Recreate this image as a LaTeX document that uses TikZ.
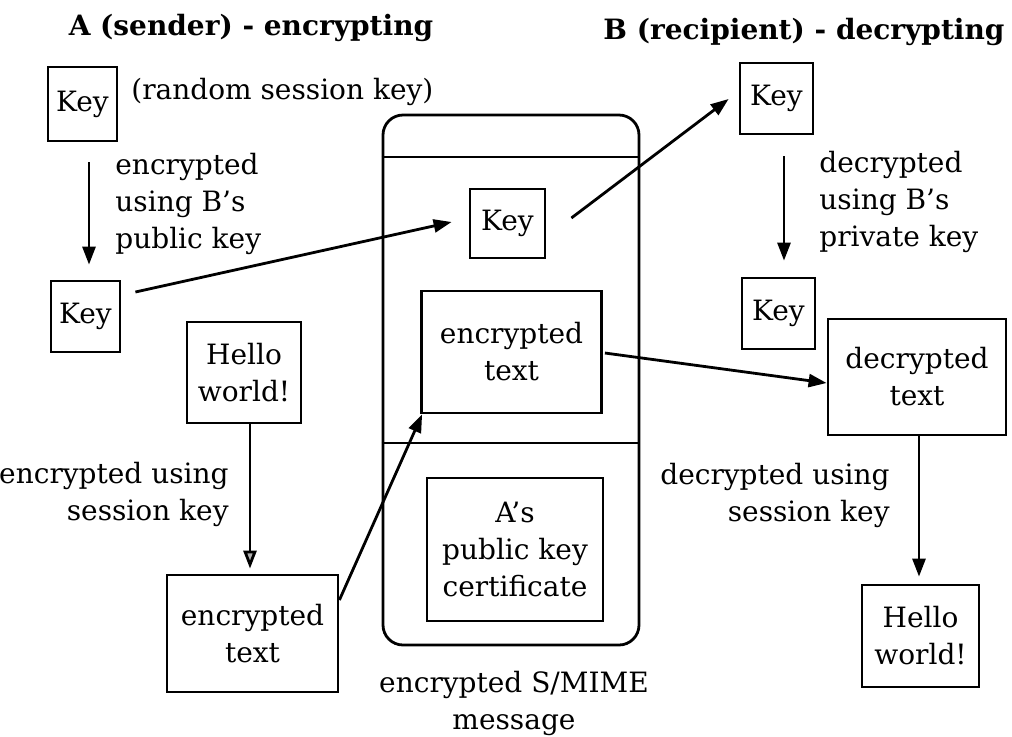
\documentclass[tikz,border=0pt]{standalone}
\usepackage{fontspec}
\setmainfont{DejaVu Serif}
\usetikzlibrary{arrows.meta,calc}
\begin{document}
\begin{tikzpicture}[x=0.5pt,y=-0.5pt,
  every node/.style={font=\fontsize{14}{18.5}\selectfont},
  box/.style={draw,line width=1.4pt,align=center,inner sep=0pt},
  lbl/.style={inner sep=0pt},
  arr/.style={line width=1.4pt,-{Triangle[length=9pt,width=6.5pt]}},
  garr/.style={line width=1.4pt,-{Triangle[length=9pt,width=6.5pt,fill=gray!60]}},
  ttl/.style={inner sep=0pt,font=\fontsize{14}{18}\selectfont\bfseries}]
\useasboundingbox (0,0) rectangle (1012,736);
% titles
\node[ttl] (tA) at (251,28) {A (sender) - encrypting};
\node[ttl] (tB) at (804,32) {B (recipient) - decrypting};
% key boxes
\node[box,minimum width=34.5pt,minimum height=37pt] (key1) at (82.5,104) {Key};
\node[box,minimum width=34.5pt,minimum height=35.5pt] (key2) at (85.5,316.5) {Key};
\node[box,minimum width=37.5pt,minimum height=34.5pt] (key3) at (507.5,223.5) {Key};
\node[box,minimum width=36.5pt,minimum height=35.5pt] (key4) at (776.5,98.5) {Key};
\node[box,minimum width=36.5pt,minimum height=35.5pt] (key5) at (778.5,313.5) {Key};
% envelope
\node[draw,line width=1.4pt,rounded corners=10pt,minimum width=128pt,minimum height=265pt,inner sep=0pt] (env) at (511,380) {};
\coordinate (h1) at (383,157);
\coordinate (h2) at (639,443);
\draw[line width=1.4pt] (h1 -| env.west) -- (h1 -| env.east);
\draw[line width=1.4pt] (h2 -| env.west) -- (h2 -| env.east);
% text boxes
\node[box,minimum width=57pt,minimum height=50.5pt] (helloA) at (244,372.5) {Hello\\world!};
\node[box,minimum width=85.5pt,minimum height=58.5pt] (encA) at (252.5,633.5) {encrypted\\text};
\node[box,minimum width=90pt,minimum height=61pt] (encE) at (511.5,352) {encrypted\\text};
\node[box,minimum width=88pt,minimum height=71.5pt] (cert) at (515,549.5) {A’s\\public key\\certificate};
\node[box,minimum width=89pt,minimum height=58pt] (dec) at (917,377) {decrypted\\text};
\node[box,minimum width=58.5pt,minimum height=51pt] (helloB) at (920.5,636) {Hello\\world!};
% labels
\node[lbl,anchor=west] (l1) at (131,92) {(random session key)};
\node[lbl,anchor=west,align=left] (l2) at (115,204) {encrypted\\using B’s\\public key};
\node[lbl,anchor=west,align=left] (l3) at (819,202) {decrypted\\using B’s\\private key};
\node[lbl,anchor=east,align=right] (l4) at (229,494) {encrypted using\\session key};
\node[lbl,anchor=east,align=right] (l5) at (890,495) {decrypted using\\session key};
\node[lbl,align=center] (l6) at (514,703) {encrypted S/MIME\\message};
% connectors
\draw[arr] ($(key1.south)+(6.5,20)$) -- ($(key2.north)+(3.5,-15)$);
\draw[arr] ($(key2.east)+(14,-24.5)$) -- ($(key3.west)+(-17,-1.5)$);
\draw[arr] ($(key3.east)+(25,-5.5)$) -- ($(key4.west)+(-10,0.5)$);
\draw[arr] ($(key4.south)+(7.5,21)$) -- ($(key5.north)+(5.5,-16)$);
\draw[garr] ($(helloA.south)+(6,0)$) -- ($(encA.north)+(-2.5,-5)$);
\draw[arr] ($(encA.east)+(0,-33.5)$) -- ($(encE.south west)+(2,0)$);
\draw[arr] ($(encE.east)+(2,1)$) -- ($(dec.west)+(0,6)$);
\draw[arr] ($(dec.south)+(2,0)$) -- ($(helloB.north)+(-1.5,-7)$);
\end{tikzpicture}
\end{document}
